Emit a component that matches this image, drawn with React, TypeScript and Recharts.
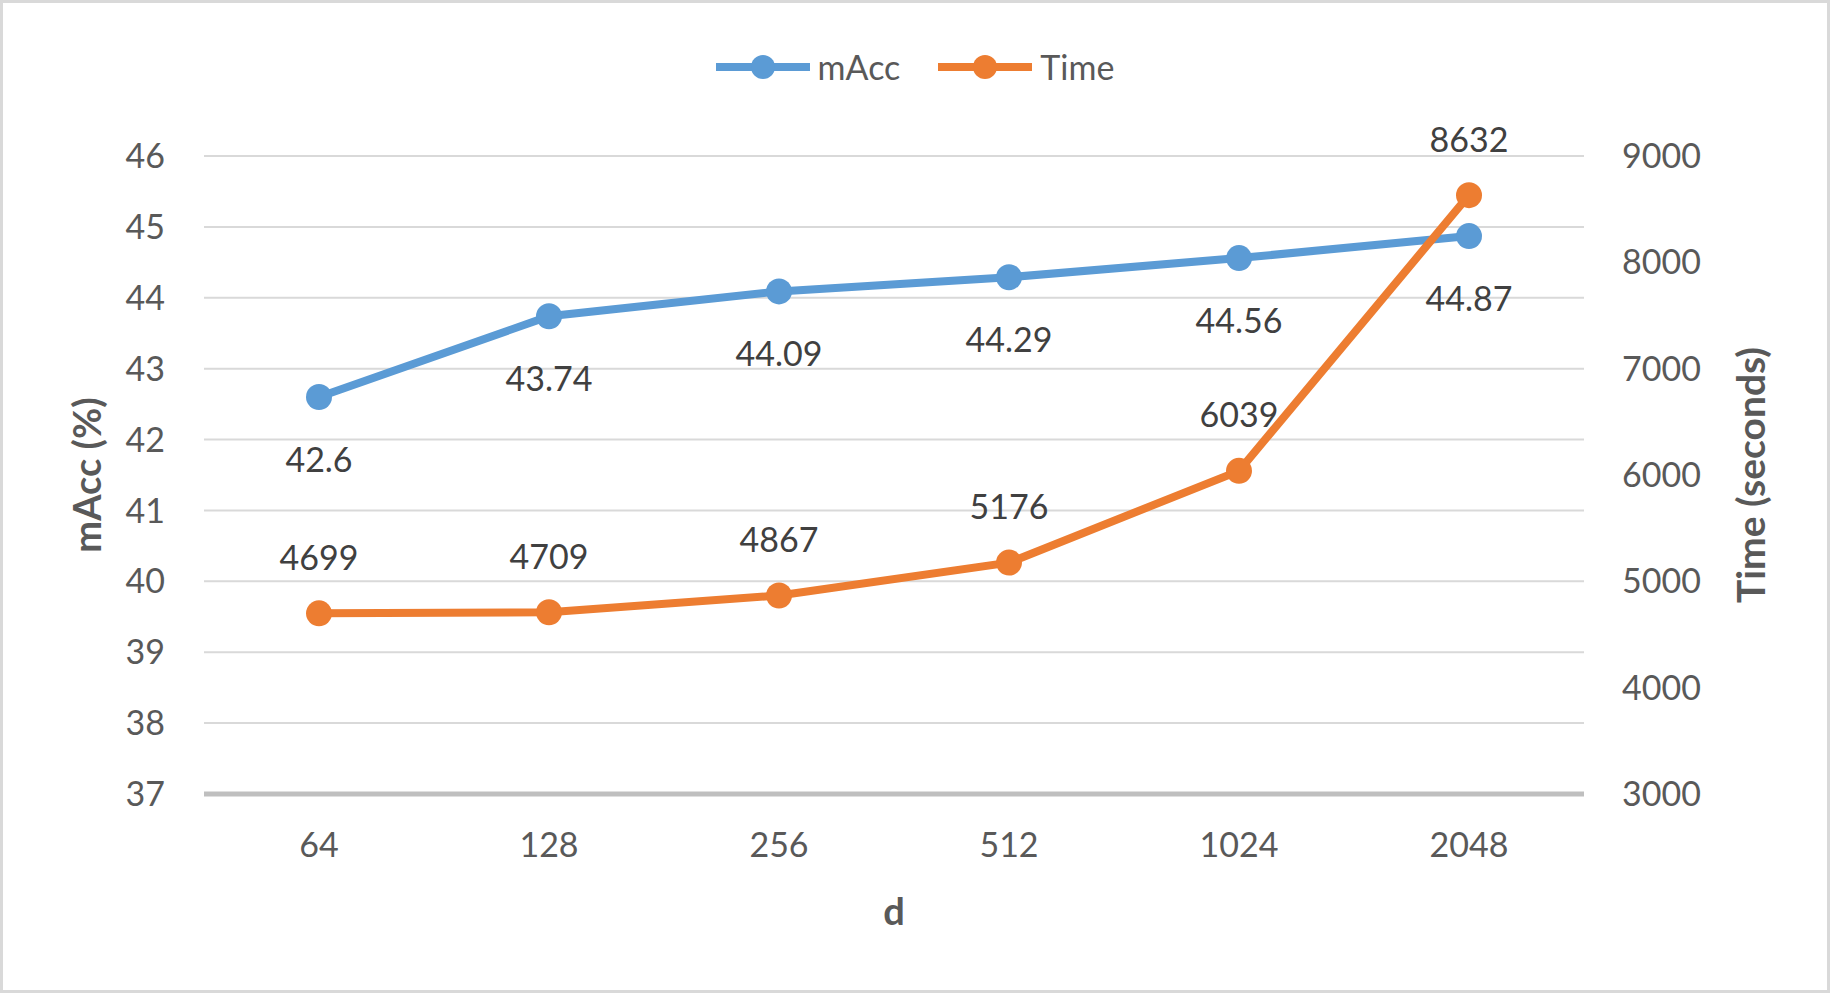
import React from 'react';
import { LineChart, Line, XAxis, YAxis, CartesianGrid, Legend } from 'recharts';

const categories = ['64', '128', '256', '512', '1024', '2048'];
const maccValues = [42.6, 43.74, 44.09, 44.29, 44.56, 44.87];
const timeValues = [4699, 4709, 4867, 5176, 6039, 8632];
const maccTicks = [37, 38, 39, 40, 41, 42, 43, 44, 45, 46];
const timeTicks = [3000, 4000, 5000, 6000, 7000, 8000, 9000];

const data = categories.map((d, i) => ({ d, mAcc: maccValues[i], Time: timeValues[i] }));

const BLUE = '#5B9BD5';
const ORANGE = '#ED7D31';
const TICK_COLOR = '#595959';
const LABEL_COLOR = '#404040';
const FONT = 'Lato, "Open Sans", sans-serif';
const FONT_SIZE = 34;

const tickStyle = { fill: TICK_COLOR, fontSize: FONT_SIZE, fontFamily: FONT };

// value label above / below each point
const pointLabel = (dy: number) => (props: any) => {
  const vb = props.viewBox || {};
  const x = props.x ?? vb.x;
  const y = props.y ?? vb.y;
  if (x == null || y == null) return null;
  return (
    <text x={x} y={y + dy} textAnchor="middle" dominantBaseline="central"
      fill={LABEL_COLOR} fontSize={FONT_SIZE} fontFamily={FONT}>
      {props.value}
    </text>
  );
};

const titleStyle = { fill: TICK_COLOR, fontSize: 38, fontFamily: FONT, fontWeight: 700 };

const leftTitle = (props: any) => {
  const { x, y, height } = props.viewBox;
  const cx = x + 26;
  const cy = y + height / 2;
  return (
    <text x={cx} y={cy} transform={`rotate(-90, ${cx}, ${cy})`} textAnchor="middle"
      dominantBaseline="central" {...titleStyle}>mAcc (%)</text>
  );
};

const rightTitle = (props: any) => {
  const { x, y, height } = props.viewBox;
  const cx = x + 166;
  const cy = y + height / 2;
  return (
    <text x={cx} y={cy} transform={`rotate(-90, ${cx}, ${cy})`} textAnchor="middle"
      dominantBaseline="central" {...titleStyle} fontSize={39}>Time (seconds)</text>
  );
};

const bottomTitle = (props: any) => {
  const { x, y, width } = props.viewBox;
  return (
    <text x={x + width / 2} y={y + 116} textAnchor="middle" dominantBaseline="central"
      {...titleStyle}>d</text>
  );
};

const renderLegend = () => (
  <div style={{ display: 'flex', justifyContent: 'center', alignItems: 'center', gap: 38,
    fontFamily: FONT, fontSize: FONT_SIZE, color: TICK_COLOR, lineHeight: '42px' }}>
    {[['mAcc', BLUE], ['Time', ORANGE]].map(([name, c]) => (
      <div key={name} style={{ display: 'flex', alignItems: 'center' }}>
        <svg width={94} height={30}>
          <line x1={0} y1={15} x2={94} y2={15} stroke={c} strokeWidth={8} />
          <circle cx={47} cy={15} r={12} fill={c} />
        </svg>
        <span style={{ marginLeft: 8 }}>{name}</span>
      </div>
    ))}
  </div>
);

export default function App() {
  return (
    <div style={{ position: 'absolute', left: 0, top: 0, width: 1830, height: 993, background: '#fff' }}>
      <LineChart width={1830} height={993} data={data}
        margin={{ top: 156, right: 40, bottom: 120, left: 60 }}>
        <CartesianGrid yAxisId="left" vertical={false} stroke="#D9D9D9" strokeWidth={2} />
        <XAxis dataKey="d" interval={0} padding={{ left: 115, right: 115 }} height={79}
          tick={tickStyle} tickLine={false} tickSize={0} tickMargin={39}
          axisLine={{ stroke: '#BFBFBF', strokeWidth: 5 }} label={bottomTitle} />
        <YAxis yAxisId="left" orientation="left" width={144} domain={[37, 46]} ticks={maccTicks}
          tick={tickStyle} tickLine={false} axisLine={false} tickSize={0} tickMargin={39}
          label={leftTitle} />
        <YAxis yAxisId="right" orientation="right" width={206} domain={[3000, 9000]} ticks={timeTicks}
          tick={tickStyle} tickLine={false} axisLine={false} tickSize={0} tickMargin={38}
          label={rightTitle} />
        <Legend verticalAlign="middle" align="center" layout="horizontal" content={renderLegend}
          wrapperStyle={{ top: 46, left: 0, width: 1830 }} />
        <Line yAxisId="left" dataKey="mAcc" stroke={BLUE} strokeWidth={8}
          dot={{ r: 13, fill: BLUE, stroke: BLUE, strokeWidth: 0 }} activeDot={false}
          isAnimationActive={false} label={pointLabel(61)} />
        <Line yAxisId="right" dataKey="Time" stroke={ORANGE} strokeWidth={8}
          dot={{ r: 13, fill: ORANGE, stroke: ORANGE, strokeWidth: 0 }} activeDot={false}
          isAnimationActive={false} label={pointLabel(-57)} />
      </LineChart>
      <div style={{ position: 'absolute', inset: 0, border: '3px solid #D9D9D9', pointerEvents: 'none' }} />
    </div>
  );
}
